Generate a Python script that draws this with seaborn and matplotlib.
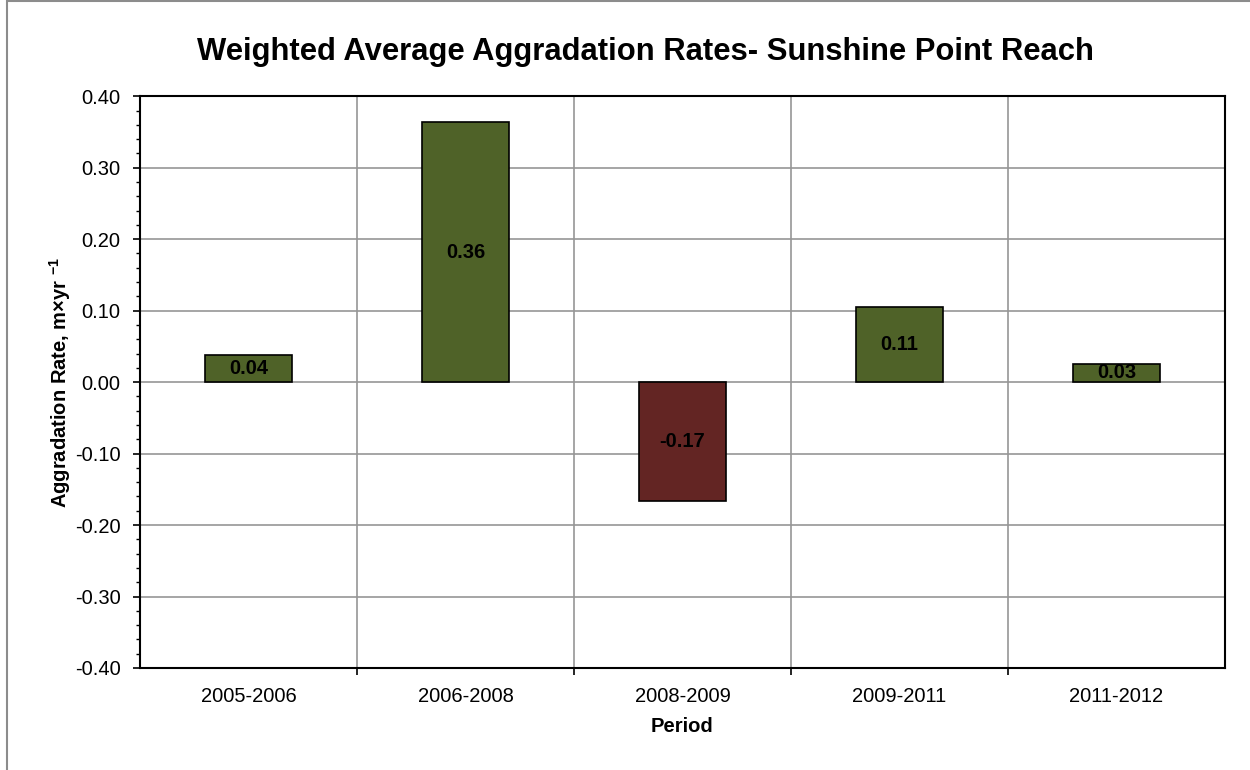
import matplotlib
matplotlib.use('Agg')
import matplotlib.pyplot as plt
import seaborn as sns
from matplotlib.ticker import MultipleLocator, FixedLocator
from matplotlib.patches import Rectangle

periods = ['2005-2006', '2006-2008', '2008-2009', '2009-2011', '2011-2012']
rates = [0.038, 0.364, -0.166, 0.105, 0.026]
bar_labels = ['0.04', '0.36', '-0.17', '0.11', '0.03']

green = '#4F6228'
red = '#632523'
colors = [green if r >= 0 else red for r in rates]

sns.set_style('white')
plt.rcParams['font.family'] = ['Liberation Sans', 'DejaVu Sans']
plt.rcParams['mathtext.fontset'] = 'custom'
plt.rcParams['mathtext.rm'] = 'Liberation Sans'
plt.rcParams['mathtext.bf'] = 'Liberation Sans:bold'
plt.rcParams['text.color'] = 'black'
plt.rcParams['axes.labelcolor'] = 'black'
plt.rcParams['xtick.color'] = 'black'
plt.rcParams['ytick.color'] = 'black'

fig = plt.figure(figsize=(12.5, 7.7), dpi=100)
ax = fig.add_axes([0.112, 0.1325, 0.868, 0.7425])

# outer chart border (only top and left edges fall inside the image)
fig.patches.append(Rectangle((7 / 1250, -0.05), 1.2, 1.05 - 1 / 770, transform=fig.transFigure,
                             fill=False, edgecolor='#8c8c8c', linewidth=1.5, zorder=0))

sns.barplot(x=periods, y=rates, hue=periods, palette=colors, legend=False, saturation=1,
            width=0.4, edgecolor='black', linewidth=1.2, ax=ax, zorder=3)

ax.set_ylim(-0.40, 0.40)
ax.set_xlim(-0.5, len(periods) - 0.5)
ax.yaxis.set_major_locator(MultipleLocator(0.1))
ax.yaxis.set_minor_locator(MultipleLocator(0.02))
ax.set_yticklabels([f'{v:.2f}' for v in ax.get_yticks()])
ax.xaxis.set_minor_locator(FixedLocator([i + 0.5 for i in range(len(periods) - 1)]))

ax.grid(axis='y', which='major', color='#969696', linewidth=1.2, zorder=1)
for b in range(len(periods) - 1):
    ax.axvline(b + 0.5, color='#969696', linewidth=1.2, zorder=1)

for s in ax.spines.values():
    s.set_color('black')
    s.set_linewidth(1.5)

ax.tick_params(axis='y', which='major', direction='out', length=5, width=1.2,
               labelsize=14.5, pad=9, left=True)
ax.tick_params(axis='y', which='minor', direction='out', length=3, width=1.0, left=True)
ax.tick_params(axis='x', which='major', length=0, labelsize=14.5, pad=13.5)
ax.tick_params(axis='x', which='minor', direction='out', length=5, width=1.2, bottom=True)

for i, (r, lab) in enumerate(zip(rates, bar_labels)):
    ax.text(i, r / 2, lab, ha='center', va='center', fontsize=14.5,
            fontweight='bold', color='black', zorder=4)

ax.set_xlabel('Period', fontsize=14.5, fontweight='bold', labelpad=8)
ax.set_ylabel(r'Aggradation Rate, m×yr $^{\mathbf{-1}}$', fontsize=14.5, fontweight='bold', labelpad=1)
fig.text(0.516, 0.932, 'Weighted Average Aggradation Rates- Sunshine Point Reach',
         ha='center', va='center', fontsize=22.3, fontweight='bold')

fig.savefig('out.png', dpi=100)
